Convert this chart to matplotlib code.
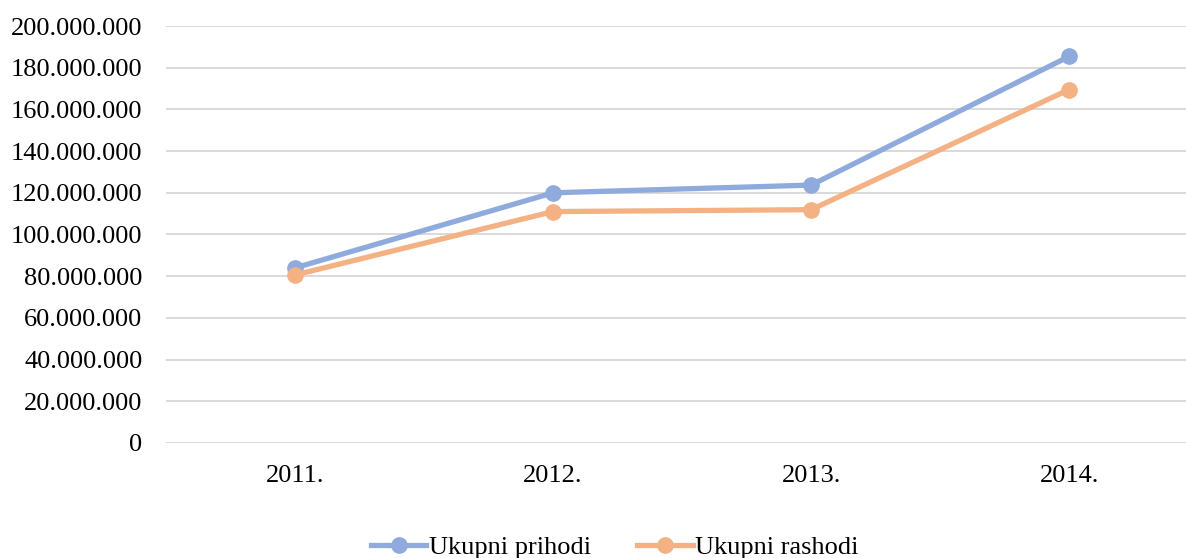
import numpy as np
import matplotlib.pyplot as plt
from matplotlib.ticker import FuncFormatter, MultipleLocator

plt.rcParams['font.family'] = ['Liberation Serif', 'DejaVu Serif']

# data
years = ['2011.', '2012.', '2013.', '2014.']
prihodi = [84_000_000, 120_000_000, 123_700_000, 185_400_000]
rashodi = [80_600_000, 111_000_000, 111_900_000, 169_500_000]

blue = '#8faadc'
orange = '#f4b183'

fig = plt.figure(figsize=(11.86, 5.58), dpi=100)
ax = fig.add_axes([0.14, 0.2061, 0.86, 0.7473])

x = np.arange(len(years))
ax.plot(x, prihodi, color=blue, lw=3.8, marker='o', ms=11, label='Ukupni prihodi', zorder=3)
ax.plot(x, rashodi, color=orange, lw=3.8, marker='o', ms=11, label='Ukupni rashodi', zorder=3)

ax.set_ylim(0, 200_000_000)
ax.set_xlim(-0.5, 3.453)
ax.yaxis.set_major_locator(MultipleLocator(20_000_000))
ax.yaxis.set_major_formatter(FuncFormatter(lambda v, p: f'{int(v):,}'.replace(',', '.')))
ax.set_xticks(x)
ax.set_xticklabels(years)

ax.grid(axis='y', color='#d9d9d9', lw=1.4)
ax.set_axisbelow(True)
for s in ax.spines.values():
    s.set_visible(False)
ax.tick_params(axis='both', length=0, labelsize=19, colors='black')
ax.tick_params(axis='y', pad=17)
ax.tick_params(axis='x', pad=16)

# legend centred around x=615 px of the figure
fig.legend(loc='center', bbox_to_anchor=(615 / 1186, 1 - 547 / 558), ncol=2, frameon=False,
           fontsize=19, handlelength=2.1, handletextpad=0.1, columnspacing=1.75)

fig.savefig('out.png', dpi=100)
